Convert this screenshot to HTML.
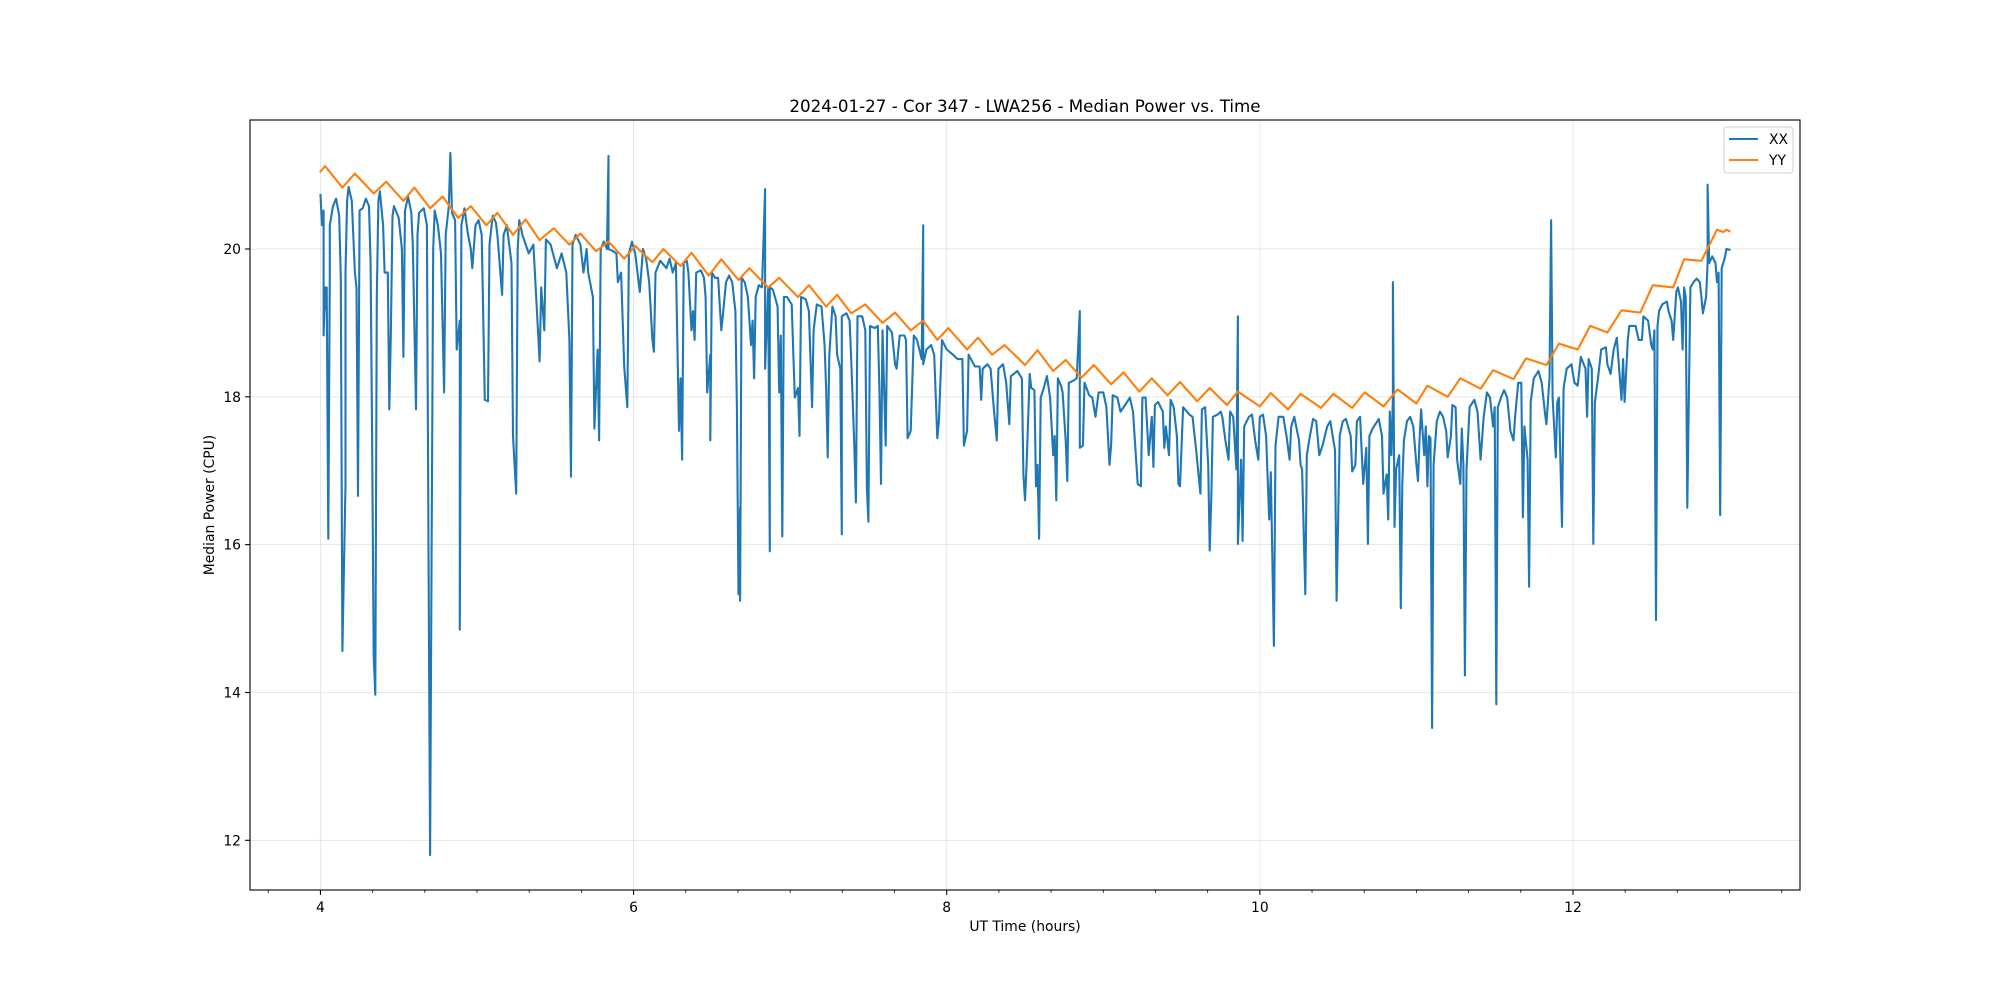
<!DOCTYPE html>
<html><head><meta charset="utf-8"><style>
html,body{margin:0;padding:0;background:#fff;}
svg{display:block;font-family:"DejaVu Sans","Liberation Sans",sans-serif;}
</style></head><body>
<svg id="chart" width="2000" height="1000" viewBox="0 0 2000 1000" xmlns="http://www.w3.org/2000/svg">
<rect width="2000" height="1000" fill="#fff"/>
<g id="grid"></g>
<g id="series"></g>
<rect x="250" y="120" width="1550" height="770" fill="none" stroke="#000" stroke-width="1.1"/>
<g id="ticks"></g>
<text x="1025" y="112" font-size="16.7" text-anchor="middle">2024-01-27 - Cor 347 - LWA256 - Median Power vs. Time</text>
<text x="1025" y="931" font-size="13.9" text-anchor="middle">UT Time (hours)</text>
<text x="0" y="0" font-size="13.9" text-anchor="middle" transform="translate(214,505) rotate(-90)">Median Power (CPU)</text>
<g>
<rect x="1724" y="127" width="69" height="46" rx="3" fill="#fff" fill-opacity="0.8" stroke="#d0d0d0" stroke-width="1"/>
<line x1="1729" y1="139" x2="1758" y2="139" stroke="#1f77b4" stroke-width="2.1"/>
<text x="1769" y="144" font-size="13.9">XX</text>
<line x1="1729" y1="160" x2="1758" y2="160" stroke="#ff7f0e" stroke-width="2.1"/>
<text x="1769" y="165" font-size="13.9">YY</text>
</g>
</svg>
<script>
const xTickLabels=[4,6,8,10,12];
const yTickLabels=[12,14,16,18,20];
const yyT=[4.00,4.03,4.14,4.22,4.34,4.42,4.53,4.60,4.70,4.78,4.88,4.96,5.06,5.13,5.23,5.31,5.40,5.49,5.59,5.66,5.76,5.84,5.94,6.01,6.12,6.19,6.30,6.37,6.48,6.56,6.67,6.74,6.86,6.93,7.05,7.12,7.23,7.30,7.39,7.48,7.59,7.67,7.77,7.85,7.94,8.01,8.13,8.20,8.29,8.37,8.50,8.58,8.68,8.76,8.86,8.94,9.05,9.13,9.23,9.31,9.41,9.49,9.60,9.68,9.79,9.86,10.00,10.07,10.18,10.26,10.39,10.47,10.59,10.67,10.79,10.88,11.00,11.07,11.20,11.28,11.41,11.49,11.62,11.70,11.83,11.91,12.03,12.11,12.22,12.31,12.43,12.51,12.64,12.71,12.82,12.92,12.96,12.98,13.00];
const yyV=[21.05,21.12,20.83,21.02,20.75,20.91,20.65,20.83,20.55,20.71,20.42,20.58,20.32,20.49,20.19,20.40,20.12,20.28,20.06,20.21,19.97,20.10,19.87,20.04,19.82,20.00,19.77,19.95,19.64,19.86,19.58,19.74,19.48,19.61,19.35,19.51,19.22,19.38,19.13,19.25,19.00,19.14,18.90,19.03,18.77,18.93,18.64,18.80,18.57,18.70,18.43,18.63,18.35,18.50,18.26,18.43,18.17,18.33,18.07,18.25,18.02,18.20,17.94,18.12,17.89,18.07,17.87,18.05,17.83,18.04,17.85,18.04,17.85,18.06,17.87,18.10,17.91,18.15,18.00,18.25,18.11,18.36,18.24,18.52,18.43,18.72,18.64,18.96,18.87,19.17,19.14,19.51,19.48,19.86,19.84,20.26,20.23,20.26,20.24];
const xxT=[4.00,4.01,4.02,4.02,4.03,4.04,4.04,4.05,4.06,4.06,4.08,4.10,4.12,4.13,4.14,4.16,4.16,4.17,4.18,4.20,4.22,4.23,4.24,4.25,4.27,4.29,4.31,4.32,4.33,4.34,4.35,4.36,4.37,4.38,4.40,4.41,4.43,4.44,4.45,4.46,4.47,4.50,4.52,4.53,4.54,4.56,4.58,4.59,4.61,4.62,4.63,4.66,4.68,4.69,4.70,4.71,4.72,4.73,4.75,4.77,4.79,4.80,4.82,4.83,4.84,4.86,4.87,4.89,4.89,4.90,4.92,4.94,4.96,4.97,4.99,5.01,5.03,5.05,5.07,5.08,5.10,5.12,5.13,5.16,5.17,5.19,5.22,5.23,5.25,5.26,5.27,5.29,5.33,5.36,5.40,5.41,5.43,5.44,5.47,5.51,5.54,5.57,5.59,5.60,5.61,5.63,5.66,5.68,5.70,5.71,5.74,5.75,5.77,5.78,5.79,5.81,5.83,5.84,5.84,5.87,5.89,5.90,5.92,5.94,5.96,5.97,5.99,6.01,6.04,6.06,6.08,6.10,6.12,6.13,6.14,6.17,6.21,6.23,6.25,6.27,6.29,6.30,6.31,6.32,6.34,6.35,6.37,6.38,6.39,6.40,6.43,6.45,6.46,6.47,6.49,6.49,6.50,6.52,6.54,6.56,6.57,6.59,6.61,6.63,6.65,6.66,6.67,6.68,6.68,6.69,6.71,6.73,6.75,6.76,6.77,6.78,6.80,6.82,6.84,6.84,6.86,6.87,6.87,6.89,6.92,6.93,6.94,6.95,6.96,6.98,7.01,7.03,7.05,7.06,7.07,7.10,7.12,7.13,7.14,7.15,7.17,7.20,7.22,7.23,7.24,7.25,7.27,7.29,7.30,7.32,7.33,7.33,7.36,7.38,7.39,7.41,7.42,7.43,7.46,7.48,7.49,7.50,7.51,7.54,7.56,7.57,7.58,7.59,7.61,7.62,7.65,7.67,7.68,7.70,7.73,7.74,7.75,7.77,7.79,7.81,7.84,7.85,7.85,7.87,7.90,7.92,7.93,7.94,7.95,7.97,8.00,8.04,8.07,8.10,8.11,8.13,8.14,8.18,8.21,8.22,8.23,8.26,8.28,8.30,8.32,8.33,8.36,8.38,8.40,8.41,8.43,8.45,8.48,8.49,8.50,8.51,8.53,8.54,8.56,8.57,8.58,8.59,8.60,8.62,8.64,8.66,8.68,8.69,8.70,8.71,8.73,8.74,8.76,8.77,8.78,8.81,8.83,8.85,8.85,8.87,8.88,8.91,8.93,8.95,8.97,9.00,9.02,9.04,9.05,9.06,9.09,9.11,9.14,9.17,9.19,9.22,9.24,9.25,9.27,9.29,9.31,9.32,9.33,9.35,9.38,9.39,9.40,9.42,9.43,9.45,9.47,9.48,9.49,9.51,9.55,9.57,9.59,9.62,9.63,9.65,9.67,9.68,9.69,9.70,9.73,9.75,9.76,9.78,9.80,9.81,9.83,9.85,9.86,9.86,9.88,9.89,9.90,9.93,9.95,9.97,9.99,10.00,10.02,10.04,10.06,10.07,10.09,10.10,10.12,10.15,10.17,10.19,10.20,10.22,10.25,10.26,10.27,10.29,10.30,10.32,10.34,10.36,10.38,10.40,10.43,10.45,10.47,10.48,10.49,10.51,10.53,10.55,10.58,10.59,10.61,10.62,10.64,10.66,10.68,10.69,10.70,10.72,10.76,10.78,10.79,10.81,10.82,10.83,10.84,10.85,10.85,10.86,10.87,10.89,10.90,10.91,10.92,10.94,10.96,10.98,11.00,11.01,11.02,11.03,11.05,11.06,11.07,11.08,11.09,11.10,11.11,11.13,11.15,11.17,11.19,11.20,11.22,11.23,11.25,11.26,11.28,11.29,11.30,11.31,11.32,11.34,11.37,11.39,11.41,11.43,11.45,11.47,11.49,11.50,11.51,11.52,11.54,11.56,11.58,11.60,11.62,11.63,11.65,11.67,11.68,11.69,11.71,11.72,11.73,11.75,11.78,11.80,11.82,11.83,11.85,11.86,11.87,11.89,11.90,11.91,11.93,11.94,11.96,11.99,12.01,12.03,12.05,12.08,12.09,12.10,12.12,12.13,12.14,12.16,12.18,12.21,12.22,12.24,12.26,12.28,12.29,12.31,12.32,12.33,12.35,12.36,12.40,12.42,12.44,12.45,12.48,12.50,12.51,12.52,12.53,12.54,12.55,12.57,12.60,12.61,12.63,12.64,12.66,12.67,12.69,12.70,12.71,12.72,12.73,12.75,12.77,12.79,12.81,12.82,12.83,12.85,12.86,12.86,12.87,12.89,12.91,12.92,12.93,12.94,12.95,12.97,12.98,13.00];
const xxV=[20.73,20.32,20.52,18.83,19.48,19.16,19.48,16.08,19.68,20.32,20.58,20.68,20.45,19.61,14.56,16.82,19.68,20.65,20.84,20.65,19.68,19.48,16.66,20.52,20.55,20.68,20.58,19.81,17.47,14.49,13.97,19.35,20.65,20.78,20.32,19.68,19.68,17.83,18.90,20.45,20.58,20.42,20.00,18.54,20.52,20.71,20.49,20.06,17.83,20.19,20.49,20.55,20.32,15.92,11.80,15.92,20.00,20.52,20.32,19.94,18.06,20.19,20.58,21.30,20.49,20.39,18.64,19.03,14.85,20.32,20.55,20.23,20.00,19.74,20.32,20.39,20.19,17.96,17.94,20.06,20.45,20.36,20.19,19.38,20.19,20.32,19.81,17.47,16.69,20.00,20.39,20.19,19.94,20.06,18.48,19.48,18.90,20.13,20.06,19.74,19.94,19.68,18.77,16.92,20.06,20.19,20.06,19.68,20.00,19.68,19.35,17.57,18.64,17.41,20.00,20.10,20.00,21.26,20.00,19.97,19.94,19.55,19.68,18.41,17.86,19.94,20.10,19.94,19.42,20.00,19.87,19.55,18.77,18.61,19.68,19.84,19.74,19.87,19.68,19.81,17.54,18.25,17.15,19.81,19.84,19.68,18.90,19.16,18.77,19.68,19.71,19.61,19.35,18.06,18.57,17.41,19.68,19.61,19.61,18.90,19.09,19.55,19.64,19.55,19.16,17.86,15.33,16.50,15.24,19.61,19.55,19.35,18.70,19.03,18.25,19.35,19.51,19.48,20.81,18.38,19.48,15.91,19.48,19.45,19.22,18.06,18.83,16.11,19.35,19.35,19.25,17.99,18.12,17.47,19.35,19.32,19.16,18.51,17.86,18.90,19.25,19.22,18.70,18.09,17.18,18.57,19.22,19.09,18.57,18.38,16.14,19.09,19.13,19.03,18.51,17.34,16.57,19.09,19.09,18.90,16.76,16.31,18.96,18.93,18.96,18.12,16.82,18.90,17.34,18.96,18.87,18.44,18.38,18.83,18.83,18.77,17.44,17.54,18.83,18.77,18.51,20.32,18.44,18.64,18.70,18.57,17.99,17.44,17.67,18.77,18.64,18.57,18.51,18.51,17.34,17.54,18.57,18.41,18.41,17.96,18.38,18.44,18.38,17.86,17.41,18.38,18.44,18.19,17.63,18.28,18.31,18.35,18.25,16.95,16.60,17.08,18.31,18.12,18.09,16.79,17.08,16.08,17.99,18.12,18.28,17.99,17.21,17.47,16.60,18.25,18.15,18.06,17.41,16.86,18.19,18.22,18.25,19.16,17.31,17.34,18.19,18.02,17.99,17.73,18.06,18.06,17.86,17.08,17.34,18.02,17.99,17.80,17.89,17.99,17.80,16.82,16.79,17.99,17.99,17.21,17.73,17.05,17.89,17.93,17.80,17.31,17.60,17.21,17.96,17.86,17.47,16.82,16.79,17.86,17.76,17.73,17.34,16.69,17.83,17.86,17.08,15.92,16.63,17.73,17.76,17.80,17.73,17.41,17.15,17.80,17.73,17.02,19.09,16.01,17.15,16.05,17.60,17.73,17.76,17.41,17.15,17.73,17.76,17.47,16.34,16.98,14.63,17.34,17.73,17.73,17.47,17.15,17.60,17.73,17.41,17.08,17.02,15.33,17.21,17.47,17.70,17.67,17.21,17.34,17.60,17.67,17.41,17.28,15.24,17.47,17.67,17.70,17.47,16.99,17.08,17.67,17.73,16.82,17.31,16.01,17.47,17.57,17.70,17.47,16.69,16.95,16.34,17.80,17.21,17.99,19.55,16.24,17.02,17.21,15.14,16.82,17.41,17.67,17.73,17.60,17.08,16.86,17.41,17.83,17.21,17.60,16.79,17.47,17.44,13.52,17.08,17.67,17.80,17.73,17.54,17.18,17.47,17.89,17.86,17.15,16.82,17.57,17.08,14.23,17.02,17.86,17.96,17.80,17.15,17.73,18.06,17.99,17.60,17.86,13.84,17.86,17.99,18.09,17.99,17.54,17.41,17.73,18.19,18.19,16.37,17.60,17.15,15.43,17.93,18.25,18.35,18.19,17.80,17.63,18.25,20.39,17.99,17.18,17.93,17.99,16.24,18.12,18.38,18.44,18.19,18.15,18.54,18.38,17.73,18.51,18.38,16.01,17.93,18.25,18.64,18.67,18.44,18.31,18.64,18.80,18.51,17.96,18.51,17.93,18.77,18.96,18.96,18.77,18.77,19.09,19.03,18.70,18.64,18.90,14.98,18.96,19.16,19.25,19.29,19.16,19.03,18.77,19.42,19.48,19.29,18.64,19.48,19.35,16.50,19.48,19.55,19.60,19.55,19.35,19.13,19.35,19.81,20.87,19.81,19.90,19.81,19.55,19.68,16.40,19.74,19.88,20.00,19.99];

const NS='http://www.w3.org/2000/svg';
const X0=250,X1=1800,Y0=120,Y1=890;
const xMin=3.55,xMax=13.45,yMin=11.328,yMax=21.745;
function sx(t){return X0+(t-xMin)/(xMax-xMin)*(X1-X0);}
function sy(v){return Y1-(v-yMin)/(yMax-yMin)*(Y1-Y0);}
function mk(tag,attrs,parent){const e=document.createElementNS(NS,tag);for(const k in attrs)e.setAttribute(k,attrs[k]);parent.appendChild(e);return e;}
const grid=document.getElementById('grid'),ticks=document.getElementById('ticks'),series=document.getElementById('series');
xTickLabels.forEach(v=>{
  const x=sx(v);
  const g=mk('line',{x1:x,y1:Y0,x2:x,y2:Y1,stroke:'#b0b0b0','stroke-opacity':0.3,'stroke-width':1},grid);
  
  
  const t=mk('line',{x1:x,y1:Y1,x2:x,y2:Y1+4.9,stroke:'#000','stroke-width':1.1},ticks);
  
  
  const l=mk('text',{x:x,y:Y1+22,'font-size':13.9,'text-anchor':'middle'},ticks);
  l.textContent=v;
  
  
});
for(let k=11;k<=40;k++){
  const v=k/3; if(k%6===0) continue; const x=sx(v); if(x<X0||x>X1) continue;
  const m=mk('line',{x1:x,y1:Y1,x2:x,y2:Y1+2.8,stroke:'#000','stroke-width':0.8},ticks);
  
  
}
yTickLabels.forEach(v=>{
  const y=sy(v);
  const g=mk('line',{x1:X0,y1:y,x2:X1,y2:y,stroke:'#b0b0b0','stroke-opacity':0.3,'stroke-width':1},grid);
  
  
  const t=mk('line',{x1:X0-4.9,y1:y,x2:X0,y2:y,stroke:'#000','stroke-width':1.1},ticks);
  
  
  const l=mk('text',{x:X0-9,y:y+5,'font-size':13.9,'text-anchor':'end'},ticks);
  l.textContent=v;
  
  
});
function pts(T,V){return T.map((t,i)=>sx(t).toFixed(1)+','+sy(V[i]).toFixed(1)).join(' ');}
const px=mk('polyline',{points:pts(xxT,xxV),fill:'none',stroke:'#1f77b4','stroke-width':2.1,'stroke-linejoin':'round','stroke-linecap':'square'},series);


const py=mk('polyline',{points:pts(yyT,yyV),fill:'none',stroke:'#ff7f0e','stroke-width':2.1,'stroke-linejoin':'round','stroke-linecap':'square'},series);


</script>
</body></html>
